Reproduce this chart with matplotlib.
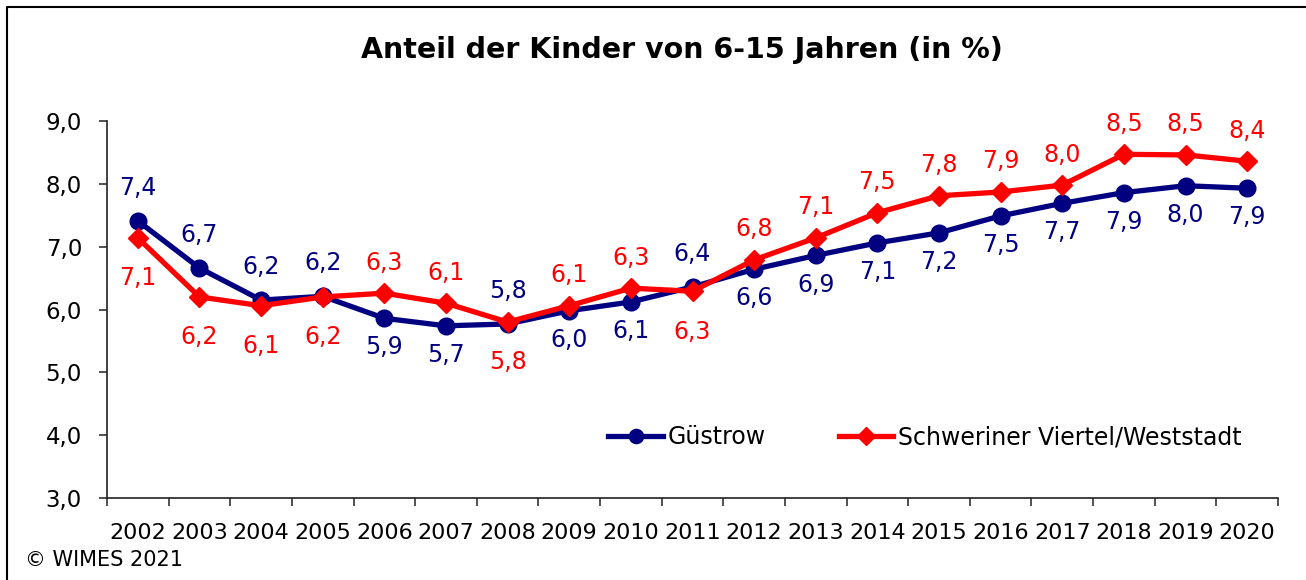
import matplotlib
matplotlib.use("Agg")
import matplotlib.pyplot as plt
from matplotlib.lines import Line2D

years = ["2002", "2003", "2004", "2005", "2006", "2007", "2008", "2009", "2010",
         "2011", "2012", "2013", "2014", "2015", "2016", "2017", "2018", "2019", "2020"]
guestrow = [7.41, 6.66, 6.15, 6.21, 5.86, 5.74, 5.77, 5.98, 6.12, 6.36,
            6.64, 6.86, 7.06, 7.22, 7.49, 7.69, 7.86, 7.97, 7.93]
schwerin = [7.14, 6.20, 6.06, 6.20, 6.26, 6.10, 5.80, 6.06, 6.34, 6.29,
            6.79, 7.14, 7.54, 7.81, 7.87, 7.98, 8.47, 8.46, 8.36]
# label placement: 'a' above, 'b' below
guestrow_pos = list("aaaabbabbabbbbbbbbb")
schwerin_pos = list("bbbbaabaabaaaaaaaaa")
yticks = [3, 4, 5, 6, 7, 8, 9]

title = "Anteil der Kinder von 6-15 Jahren (in %)"
series_names = ["Güstrow", "Schweriner Viertel/Weststadt"]

BLUE = "#000080"
RED = "#FF0000"

plt.rcParams['font.family'] = ['DejaVu Sans']

fig = plt.figure(figsize=(13.06, 5.80), dpi=100)
ax = fig.add_axes([107/1306, 1 - 498/580, (1278-107)/1306, (498-121)/580])

x = list(range(len(years)))
ax.plot(x, guestrow, color=BLUE, lw=3.8, marker="o", ms=12, label=series_names[0], zorder=3)
ax.plot(x, schwerin, color=RED, lw=3.8, marker="D", ms=10.5, label=series_names[1], zorder=4)

def fmt(v):
    return f"{v:.1f}".replace(".", ",")

for xi, v, p in zip(x, guestrow, guestrow_pos):
    off = 24 if p == "a" else -21
    ax.annotate(fmt(v), (xi, v), xytext=(0, off), textcoords="offset points",
                ha="center", va="center", color=BLUE, fontsize=17)
for xi, v, p in zip(x, schwerin, schwerin_pos):
    off = 22 if p == "a" else -29
    ax.annotate(fmt(v), (xi, v), xytext=(0, off), textcoords="offset points",
                ha="center", va="center", color=RED, fontsize=17)

ax.set_xlim(-0.5, len(years) - 0.5)
ax.set_ylim(3, 9)
ax.set_yticks(yticks)
ax.set_yticklabels([fmt(v) for v in yticks], fontsize=16.5)
ax.set_xticks(x)
ax.set_xticklabels(years, fontsize=16)
ax.set_xticks([i - 0.5 for i in range(len(years) + 1)], minor=True)
ax.tick_params(axis="x", which="major", length=0, pad=18)
ax.tick_params(axis="x", which="minor", length=6, width=1.2, color="#333333")
ax.tick_params(axis="y", which="major", length=6, width=1.2, color="#333333", pad=12)

for s in ["top", "right"]:
    ax.spines[s].set_visible(False)
for s in ["left", "bottom"]:
    ax.spines[s].set_linewidth(1.2)
    ax.spines[s].set_color("#222222")

leg = ax.legend(loc="upper left", bbox_to_anchor=((599-107)/1171, 1 - (416-121)/377),
                ncol=2, frameon=False, fontsize=17, handlelength=2.3,
                handletextpad=0.2, columnspacing=3.1, borderaxespad=0,
                markerscale=0.85)

fig.text(682/1306, 1 - 50/580, title, ha="center", va="center",
         fontsize=20.5, fontweight="bold")
fig.text(25/1306, 1 - 560/580, "© WIMES 2021", ha="left", va="center", fontsize=15)

# figure frame (top and left edges)
fig.add_artist(Line2D([7/1306, 7/1306, 1], [0, 1 - 7/580, 1 - 7/580],
                      transform=fig.transFigure, color="black", lw=1.5))

fig.savefig("out.png", dpi=100)
